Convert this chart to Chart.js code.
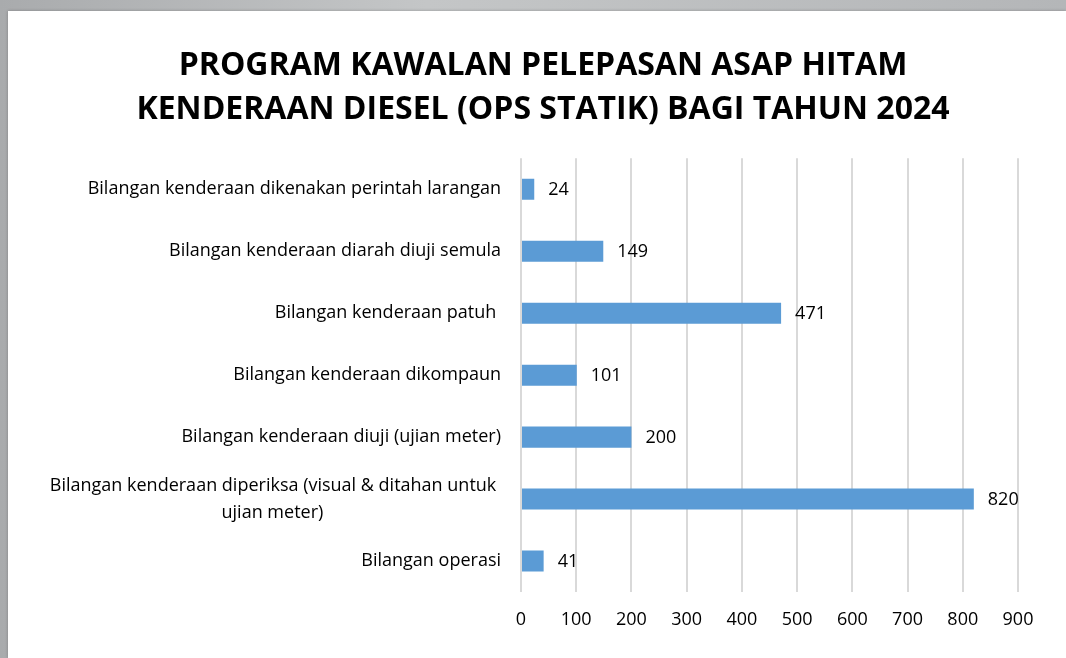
<!DOCTYPE html>
<html>
<head>
<meta charset="utf-8">
<script src="https://cdn.jsdelivr.net/npm/chart.js@4"></script>
<style>
  html, body { margin: 0; padding: 0; }
  body {
    width: 1066px; height: 658px; overflow: hidden;
    background: linear-gradient(90deg, #a9abad, #c4c6c7 40%, #b4b6b8);
    position: relative;
  }
  #card {
    position: absolute; left: 8px; top: 11px; width: 1058px; height: 647px;
    background: #fff; box-shadow: 0 0 3px rgba(0,0,0,0.25);
  }
  #barChart { display: block; }
</style>
</head>
<body>
<div id="card"><canvas id="barChart" width="1058" height="647"></canvas></div>
<script>
const chartTitle = ["PROGRAM KAWALAN PELEPASAN ASAP HITAM", "KENDERAAN DIESEL (OPS STATIK) BAGI TAHUN 2024"];

const categories = [
  "Bilangan kenderaan dikenakan perintah larangan",
  "Bilangan kenderaan diarah diuji semula",
  "Bilangan kenderaan patuh ",
  "Bilangan kenderaan dikompaun",
  "Bilangan kenderaan diuji (ujian meter)",
  ["Bilangan kenderaan diperiksa (visual & ditahan untuk", "ujian meter)"],
  "Bilangan operasi",
];

const values = [24, 149, 471, 101, 200, 820, 41];

const xTicks = [0, 100, 200, 300, 400, 500, 600, 700, 800, 900];

const fontFamily = "'Open Sans', 'Noto Sans', sans-serif";

// second line of the long label sits roughly centred under the first
const tickLabels = categories.map((c) => {
  if (Array.isArray(c)) return [c[0] + " ", c[1] + " ".repeat(38)];
  return c;
});

const valueLabels = {
  id: "valueLabels",
  afterDatasetsDraw(chart) {
    const ctx = chart.ctx;
    const meta = chart.getDatasetMeta(0);
    ctx.save();
    ctx.font = "18px " + fontFamily;
    ctx.fillStyle = "#000";
    ctx.textAlign = "left";
    ctx.textBaseline = "middle";
    meta.data.forEach((bar, i) => {
      ctx.fillText(String(values[i]), bar.x + 14, bar.y + 1);
    });
    ctx.restore();
  },
};

// title is centred a bit right of the canvas middle
const titleShift = {
  id: "titleShift",
  afterLayout(chart) {
    if (chart.titleBlock) chart.titleBlock.left += 60;
  },
};

const ctx = document.getElementById("barChart").getContext("2d");
const chart = new Chart(ctx, {
  type: "bar",
  data: {
    labels: tickLabels,
    datasets: [
      {
        label: "Bilangan",
        data: values,
        backgroundColor: "#5b9bd5",
        borderWidth: 0,
        barPercentage: 0.34,
        categoryPercentage: 1,
      },
    ],
  },
  options: {
    indexAxis: "y",
    responsive: false,
    animation: false,
    layout: { padding: { left: 0, right: 48, top: 0, bottom: 0 } },
    scales: {
      x: {
        min: 0,
        max: 900,
        afterBuildTicks: (scale) => {
          scale.ticks = xTicks.map((v) => ({ value: v }));
        },
        afterFit: (scale) => {
          scale.height = 66;
        },
        grid: { color: "#d9d9d9", lineWidth: 2, drawTicks: false },
        border: { display: false },
        ticks: {
          padding: 17,
          color: "#000",
          font: { family: fontFamily, size: 18 },
        },
      },
      y: {
        afterFit: (scale) => {
          scale.width = 513;
        },
        grid: { display: false, drawTicks: false },
        border: { display: false },
        ticks: {
          padding: 20,
          color: "#000",
          font: { family: fontFamily, size: 18, lineHeight: 1.5 },
        },
      },
    },
    plugins: {
      legend: { display: false },
      tooltip: { enabled: false },
      title: {
        display: true,
        text: chartTitle,
        color: "#000",
        font: { family: fontFamily, size: 32, weight: "bold", lineHeight: 1.38 },
        padding: { top: 33, bottom: 26 },
      },
    },
  },
  plugins: [valueLabels, titleShift],
});
</script>
</body>
</html>
